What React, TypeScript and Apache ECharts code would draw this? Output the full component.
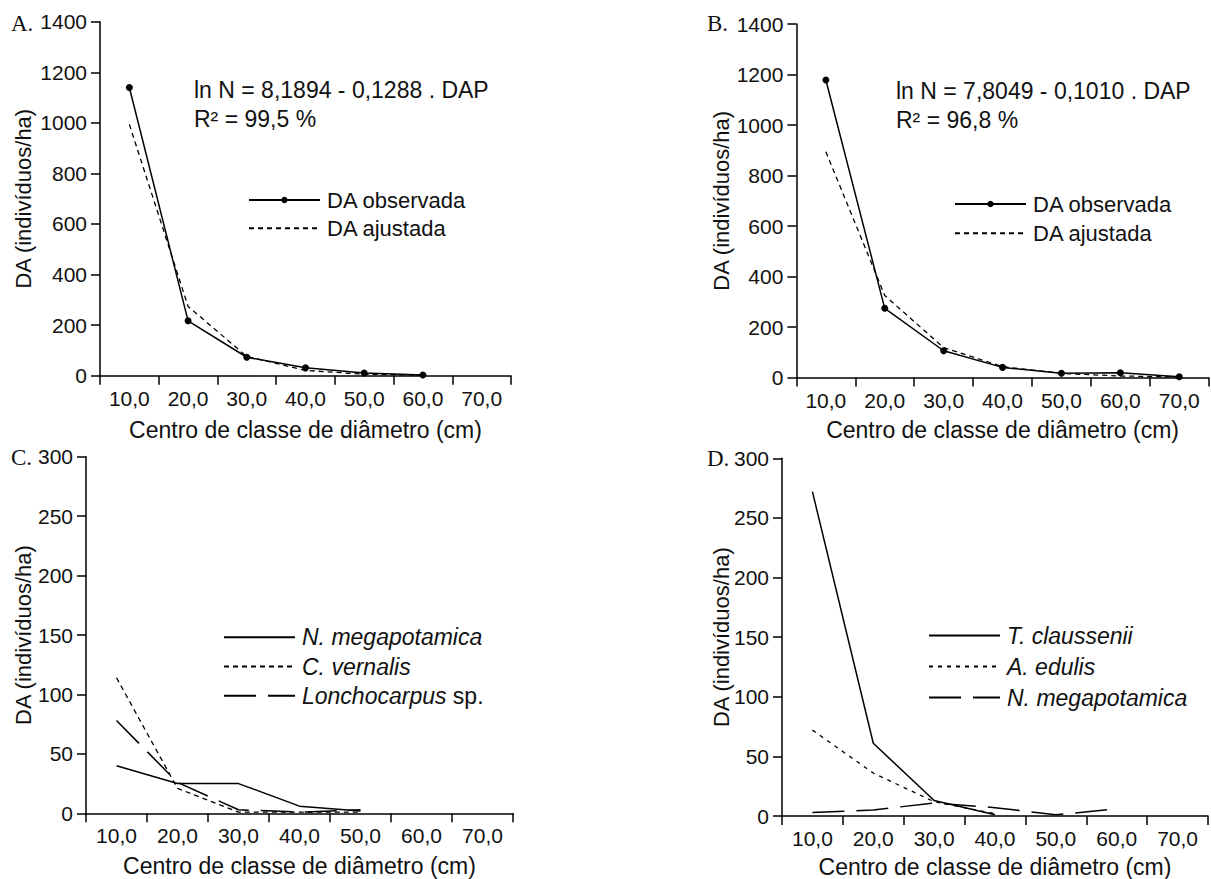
import React, { useEffect, useRef } from 'react';
import * as echarts from 'echarts';

const categories = ['10,0', '20,0', '30,0', '40,0', '50,0', '60,0', '70,0'];

// Panel A
const obsA = [1140, 217, 73, 31, 11, 3];
const fitA = [994, 274, 76, 21, 6, 2];
// Panel B
const obsB = [1178, 274, 106, 40, 17, 19, 3];
const fitB = [894, 325, 118, 43, 16, 6, 2];
// Panel C
const cNmeg = [40, 25, 25, 6, 2];
const cCver = [114, 21, 1, 1, 1];
const cLonc = [78, 26, 3, 1, 3];
// Panel D
const dTcla = [272, 61, 13, 1];
const dAedu = [72, 36, 12, 2];
const dNmeg = [3, 5, 11, 7, 1, 6];

const eqA = ['ln N = 8,1894 - 0,1288 . DAP', 'R² = 99,5 %'];
const eqB = ['ln N = 7,8049 - 0,1010 . DAP', 'R² = 96,8 %'];

const FONT = '"Liberation Sans", Arial, Helvetica, sans-serif';
const SERIF = '"Liberation Serif", "Times New Roman", serif';
const INK = '#111111';
const X_TITLE = 'Centro de classe de diâmetro (cm)';
const Y_TITLE = 'DA (indivíduos/ha)';

const grids = [
  { left: 100, top: 21.7, width: 411, height: 354 },
  { left: 796.4, top: 24, width: 412.3, height: 353.5 },
  { left: 86, top: 456.7, width: 427, height: 356.6 },
  { left: 782, top: 458.3, width: 426, height: 357.7 },
];
const yMax = [1400, 1400, 300, 300];
const yInt = [200, 200, 50, 50];
const yNameGap = [66, 64, 52, 50];
const xNameGap = [43, 41, 41.5, 39];

const italicNames = new Set(['N. megapotamica', 'C. vernalis', 'T. claussenii', 'A. edulis']);

function labelOf(name: string) {
  const base = name.split('|')[0];
  if (base === 'Lonchocarpus sp.') return '{i|Lonchocarpus} sp.';
  if (italicNames.has(base)) return '{i|' + base + '}';
  return base;
}

const SOLID = { color: '#000', width: 1.5, type: 'solid' as any };
const SHORT = { color: '#000', width: 1.3, type: [5, 4] as any };
const FINE = { color: '#000', width: 1.3, type: [4, 5] as any };
const LONG = { color: '#000', width: 1.5, type: [32, 12] as any };

function line(name: string, idx: number, data: number[], ls: any, sym = false) {
  return {
    name,
    type: 'line',
    xAxisIndex: idx,
    yAxisIndex: idx,
    data,
    symbol: sym ? 'circle' : 'none',
    symbolSize: 7,
    showSymbol: sym,
    lineStyle: ls,
    itemStyle: { color: '#000' },
    emphasis: { disabled: true },
    z: 3,
  };
}

function legend(left: number, top: number, gap: number, names: string[], fontSize: number, noSym: string[]) {
  return {
    orient: 'vertical',
    left,
    top,
    padding: 0,
    itemWidth: 71,
    itemHeight: 8,
    itemGap: gap,
    selectedMode: false,
    data: names.map((n) => (noSym.includes(n) ? { name: n, itemStyle: { opacity: 0 } } : { name: n })),
    formatter: (n: string) => labelOf(n),
    textStyle: {
      color: INK,
      fontFamily: FONT,
      fontSize,
      lineHeight: 22,
      padding: [0, 0, 0, 2],
      rich: {
        i: { fontStyle: 'italic', fontFamily: FONT, fontSize, lineHeight: 22, color: INK },
      },
    },
  };
}

function txt(x: number, y: number, text: string, font: string, rotation = 0, align = 'left') {
  return {
    type: 'text',
    x,
    y,
    rotation,
    silent: true,
    style: {
      text,
      font,
      fill: INK,
      textAlign: align,
      textVerticalAlign: 'middle',
      align,
      verticalAlign: 'middle',
    },
  };
}

export default function App() {
  const ref = useRef<HTMLDivElement>(null);
  useEffect(() => {
    if (!ref.current) return;
    const chart = echarts.init(ref.current, undefined, { renderer: 'svg' });
    const option: any = {
      animation: false,
      backgroundColor: '#ffffff',
      grid: grids.map((g) => ({ ...g, containLabel: false, outerBoundsMode: 'none' })),
      xAxis: grids.map((_, i) => ({
        type: 'category',
        gridIndex: i,
        data: categories,
        boundaryGap: true,
        name: X_TITLE,
        nameLocation: 'middle',
        nameGap: xNameGap[i],
        nameMoveOverlap: false,
        nameTextStyle: { color: INK, fontFamily: FONT, fontSize: 23 },
        axisLine: { show: true, lineStyle: { color: '#000', width: 1.5 } },
        axisTick: { show: true, alignWithLabel: false, interval: 0, length: 9, lineStyle: { color: '#000', width: 1.5 } },
        axisLabel: { interval: 0, margin: 12, color: INK, fontFamily: FONT, fontSize: 21 },
        splitLine: { show: false },
      })),
      yAxis: grids.map((_, i) => ({
        type: 'value',
        gridIndex: i,
        min: 0,
        max: yMax[i],
        interval: yInt[i],
        name: Y_TITLE,
        nameLocation: 'middle',
        nameRotate: 90,
        nameGap: yNameGap[i],
        nameMoveOverlap: false,
        nameTextStyle: { color: INK, fontFamily: FONT, fontSize: 22 },
        axisLine: { show: true, lineStyle: { color: '#000', width: 1.5 } },
        axisTick: { show: true, length: 9, lineStyle: { color: '#000', width: 1.5 } },
        axisLabel: {
          margin: 13,
          color: INK,
          fontFamily: FONT,
          fontSize: 21,
          formatter: (v: number) => String(v),
        },
        splitLine: { show: false },
      })),
      legend: [
        legend(248, 189, 6.3, ['DA observada|A', 'DA ajustada|A'], 22, ['DA ajustada|A']),
        legend(954, 193, 7.3, ['DA observada|B', 'DA ajustada|B'], 22, ['DA ajustada|B']),
        legend(223, 625.7, 6.3, ['N. megapotamica|C', 'C. vernalis|C', 'Lonchocarpus sp.|C'], 23, ['N. megapotamica|C', 'C. vernalis|C', 'Lonchocarpus sp.|C']),
        legend(928, 624, 8, ['T. claussenii|D', 'A. edulis|D', 'N. megapotamica|D'], 23, ['T. claussenii|D', 'A. edulis|D', 'N. megapotamica|D']),
      ],
      series: [
        line('DA observada|A', 0, obsA, SOLID, true),
        line('DA ajustada|A', 0, fitA, SHORT),
        line('DA observada|B', 1, obsB, SOLID, true),
        line('DA ajustada|B', 1, fitB, SHORT),
        line('N. megapotamica|C', 2, cNmeg, SOLID),
        line('C. vernalis|C', 2, cCver, SHORT),
        line('Lonchocarpus sp.|C', 2, cLonc, LONG),
        line('T. claussenii|D', 3, dTcla, SOLID),
        line('A. edulis|D', 3, dAedu, FINE),
        line('N. megapotamica|D', 3, dNmeg, LONG),
      ],
      graphic: [
        txt(11, 23, 'A.', '23px ' + SERIF),
        txt(707, 23, 'B.', '23px ' + SERIF),
        txt(11, 457, 'C.', '23px ' + SERIF),
        txt(707, 458, 'D.', '23px ' + SERIF),
        txt(194, 89.5, eqA[0], '23px ' + FONT),
        txt(194, 118.5, eqA[1], '23px ' + FONT),
        txt(896, 91, eqB[0], '23px ' + FONT),
        txt(896, 120, eqB[1], '23px ' + FONT),
      ],
    };
    chart.setOption(option);
    return () => chart.dispose();
  }, []);
  return (
    <div
      ref={ref}
      style={{ position: 'absolute', left: 0, top: 0, width: 1211, height: 879, background: '#fff' }}
    />
  );
}
